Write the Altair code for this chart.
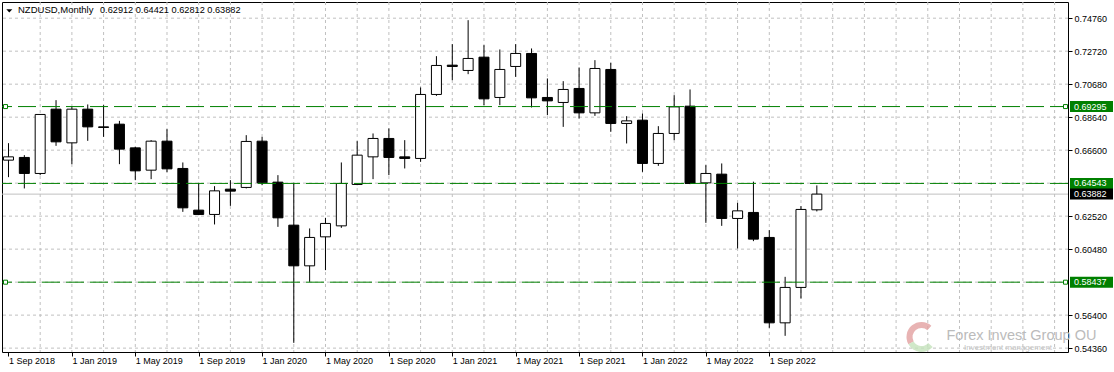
import altair as alt
import pandas as pd

# ---- data (NZDUSD, monthly candles) ----
months = ["2018-09", "2018-10", "2018-11", "2018-12", "2019-01", "2019-02", "2019-03", "2019-04",
          "2019-05", "2019-06", "2019-07", "2019-08", "2019-09", "2019-10", "2019-11", "2019-12",
          "2020-01", "2020-02", "2020-03", "2020-04", "2020-05", "2020-06", "2020-07", "2020-08",
          "2020-09", "2020-10", "2020-11", "2020-12", "2021-01", "2021-02", "2021-03", "2021-04",
          "2021-05", "2021-06", "2021-07", "2021-08", "2021-09", "2021-10", "2021-11", "2021-12",
          "2022-01", "2022-02", "2022-03", "2022-04", "2022-05", "2022-06", "2022-07", "2022-08",
          "2022-09", "2022-10", "2022-11", "2022-12"]
opens = [0.65982, 0.66149, 0.65159, 0.69134, 0.67051, 0.69134, 0.68040, 0.68207,
         0.66742, 0.65363, 0.67156, 0.65468, 0.62891, 0.62625, 0.64189, 0.64294,
         0.67156, 0.64622, 0.61963, 0.59447, 0.61240, 0.61920, 0.64479, 0.66186,
         0.67323, 0.66186, 0.66087, 0.70043, 0.71855, 0.71527, 0.72349, 0.69858,
         0.71774, 0.72578, 0.69858, 0.69549, 0.70414, 0.68906, 0.71589, 0.68250,
         0.68454, 0.65778, 0.67632, 0.69320, 0.64578, 0.65116, 0.62377, 0.62748,
         0.61203, 0.55923, 0.58112, 0.62912]
highs = [0.67032, 0.66291, 0.68830, 0.69691, 0.69320, 0.69425, 0.69382, 0.68411,
         0.66804, 0.67218, 0.67898, 0.65839, 0.64560, 0.64374, 0.64745, 0.67527,
         0.67422, 0.65054, 0.64578, 0.61759, 0.62415, 0.65839, 0.67156, 0.67632,
         0.67941, 0.67218, 0.70476, 0.72411, 0.73153, 0.74636, 0.73091, 0.72825,
         0.73153, 0.72887, 0.71032, 0.70865, 0.71712, 0.72164, 0.71997, 0.68702,
         0.68869, 0.68083, 0.70000, 0.70352, 0.65672, 0.65778, 0.63342, 0.64652,
         0.61654, 0.58767, 0.63138, 0.64421]
lows = [0.64931, 0.64232, 0.65054, 0.66866, 0.65734, 0.67175, 0.67422, 0.65734,
        0.64745, 0.64807, 0.65240, 0.62785, 0.62582, 0.62006, 0.63156, 0.64232,
        0.64436, 0.61858, 0.54687, 0.58458, 0.59181, 0.61796, 0.64436, 0.64807,
        0.65054, 0.65468, 0.65876, 0.69957, 0.70927, 0.71298, 0.69382, 0.69382,
        0.71131, 0.69239, 0.68763, 0.68040, 0.68559, 0.68720, 0.67731, 0.67014,
        0.65258, 0.65629, 0.67218, 0.64498, 0.62105, 0.61920, 0.60523, 0.60974,
        0.55614, 0.55120, 0.57432, 0.62812]
closes = [0.66186, 0.65159, 0.68807, 0.67113, 0.69134, 0.68040, 0.68003, 0.66662,
          0.65320, 0.67156, 0.65444, 0.63033, 0.62625, 0.64084, 0.64065, 0.67138,
          0.64578, 0.62415, 0.59447, 0.61203, 0.62068, 0.64541, 0.66291, 0.67323,
          0.66149, 0.66087, 0.70043, 0.71836, 0.71774, 0.72269, 0.69771, 0.71589,
          0.72578, 0.69833, 0.69647, 0.70352, 0.68906, 0.71650, 0.68250, 0.68411,
          0.65778, 0.67632, 0.69277, 0.64541, 0.65159, 0.62377, 0.62847, 0.61098,
          0.55923, 0.58112, 0.62934, 0.63882]

x_tick_pos = [0, 4, 8, 12, 16, 20, 24, 28, 32, 36, 40, 44, 48]
x_tick_labels = ["1 Sep 2018", "1 Jan 2019", "1 May 2019", "1 Sep 2019", "1 Jan 2020",
                 "1 May 2020", "1 Sep 2020", "1 Jan 2021", "1 May 2021", "1 Sep 2021",
                 "1 Jan 2022", "1 May 2022", "1 Sep 2022"]
grid_y_values = [0.54360, 0.56400, 0.58440, 0.60480, 0.62520, 0.64560,
                 0.66600, 0.68640, 0.70680, 0.72720, 0.74760]
y_label_values = [0.54360, 0.56400, 0.60480, 0.62520, 0.66600,
                  0.68640, 0.70680, 0.72720, 0.74760]
level_values = [0.69295, 0.64543, 0.58437]
level_marker_values = [0.69295, 0.58437]
bid_value = 0.63882
header_symbol = "NZDUSD,Monthly"
header_ohlc = "0.62912 0.64421 0.62812 0.63882"
wm_title = "Forex Invest Group OU"
wm_sub = "Investment management"

# ---- tables ----
df = pd.DataFrame({"m": months, "o": opens, "h": highs, "l": lows, "c": closes})
df["idx"] = range(len(df))
df["top"] = df[["o", "c"]].max(axis=1)
df["bot"] = df[["o", "c"]].min(axis=1)

grid_x = list(range(2, 67, 2))
df_gx = pd.DataFrame({"g": grid_x})
df_gy = pd.DataFrame({"v": grid_y_values})
df_lv = pd.DataFrame({"v": level_values})
df_mk = pd.DataFrame({"v": level_marker_values})
df_bid = pd.DataFrame({"v": [bid_value]})
df_lab = pd.DataFrame({"v": level_values + [bid_value],
                       "kind": ["level"] * len(level_values) + ["bid"]})
one = pd.DataFrame({"a": [0]})

FONT = "Liberation Sans"
W, H = 1066, 350

xs = alt.Scale(domain=[-0.09375, 66.53125], nice=False, zero=False)
ys = alt.Scale(domain=[0.5412, 0.7576], nice=False, zero=False)

label_expr = "[" + ",".join("'" + s + "'" for s in x_tick_labels) + "][round(datum.value / 4)]"
x_axis = alt.Axis(values=x_tick_pos, labelExpr=label_expr, title=None, orient="bottom",
                  labelAlign="left", labelBaseline="top", labelPadding=0, tickSize=4,
                  labelFlush=False, labelOverlap=False, labelBound=False, grid=False, domain=False)
y_axis = alt.Axis(values=y_label_values, format=".5f", title=None, orient="right",
                  labelAlign="left", labelBaseline="middle", labelPadding=2, tickSize=4,
                  labelFlush=False, labelOverlap=False, grid=False, domain=False)


def X(field):
    return alt.X(field, type="quantitative", scale=xs, axis=x_axis)


def Y(field):
    return alt.Y(field, type="quantitative", scale=ys, axis=y_axis)


grid_v = alt.Chart(df_gx).mark_rule(color="#c0c0c0", strokeDash=[3, 3], strokeWidth=1).encode(
    x=X("g"))
grid_h = alt.Chart(df_gy).mark_rule(color="#c0c0c0", strokeDash=[3, 3], strokeWidth=1).encode(
    y=Y("v"))

# watermark
logo_red = alt.Chart(one).mark_arc(radius=15, radius2=9, theta=4.2, theta2=7.0,
                                   color="#e2a0a0", opacity=0.8).encode(
    x=alt.value(919.5), y=alt.value(335))
logo_green = alt.Chart(one).mark_arc(radius=15, radius2=9, theta=2.3, theta2=4.2,
                                     color="#c4e2bb", opacity=0.8).encode(
    x=alt.value(919.5), y=alt.value(335))
wm1 = alt.Chart(one).mark_text(align="left", baseline="alphabetic", font=FONT,
                               fontSize=14.5, color="#bbbbbb").encode(
    x=alt.value(944.5), y=alt.value(338), text=alt.value(wm_title))
wm2 = alt.Chart(one).mark_text(align="left", baseline="alphabetic", font=FONT,
                               fontSize=8, color="#c4c4c4").encode(
    x=alt.value(962), y=alt.value(347.5), text=alt.value(wm_sub))

bid = alt.Chart(df_bid).mark_rule(color="#c0c0c0", strokeWidth=1).encode(y=Y("v"))

wicks = alt.Chart(df).mark_rule(color="black", strokeWidth=1).encode(
    x=X("idx"), y=Y("h"), y2="l:Q")
bodies = alt.Chart(df).mark_bar(size=10, stroke="black", strokeWidth=1).encode(
    x=X("idx"), y=Y("top"), y2="bot:Q",
    fill=alt.condition("datum.c >= datum.o", alt.value("white"), alt.value("black")))

levels = alt.Chart(df_lv).mark_rule(color="#008000", strokeDash=[18, 6], strokeWidth=1).encode(
    y=Y("v"))
mk_left = alt.Chart(df_mk).mark_square(size=16, fill="white", stroke="#008000", strokeWidth=1,
                                       opacity=1).encode(x=alt.value(3.5), y=Y("v"))
mk_right = alt.Chart(df_mk).mark_square(size=16, fill="white", stroke="#008000", strokeWidth=1,
                                        opacity=1).encode(x=alt.value(1063.5), y=Y("v"))

lab_box = alt.Chart(df_lab).mark_rect(yOffset=-5.5, y2Offset=5.5).encode(
    x=alt.value(1068), x2=alt.value(1111),
    y=Y("v"), y2="v:Q",
    color=alt.condition("datum.kind == 'bid'", alt.value("black"), alt.value("#008000")))
lab_txt = alt.Chart(df_lab).mark_text(align="left", baseline="middle", font=FONT, fontSize=9,
                                      color="white").encode(
    x=alt.value(1072), y=Y("v"), text=alt.Text("v:Q", format=".5f"))

tri = alt.Chart(one).mark_point(shape="M-1,-0.55L1,-0.55L0,0.55Z", filled=True, color="black",
                                size=36, opacity=1).encode(x=alt.value(7.3), y=alt.value(8.8))
hdr1 = alt.Chart(one).mark_text(align="left", baseline="alphabetic", font=FONT, fontSize=9.5,
                                color="black").encode(
    x=alt.value(16), y=alt.value(11), text=alt.value(header_symbol))
hdr2 = alt.Chart(one).mark_text(align="left", baseline="alphabetic", font=FONT, fontSize=9.2,
                                color="black").encode(
    x=alt.value(98), y=alt.value(11), text=alt.value(header_ohlc))

chart = alt.layer(
    grid_v, grid_h, logo_red, logo_green, wm1, wm2, bid, wicks, bodies, levels,
    mk_left, mk_right, lab_box, lab_txt, tri, hdr1, hdr2
).properties(
    width=W, height=H,
    padding={"left": 2, "top": 2, "right": 46, "bottom": 20},
    autosize=alt.AutoSizeParams(type="none"),
    background="white",
).configure_view(
    stroke="black", strokeWidth=1
).configure_axis(
    labelFont=FONT, labelFontSize=9, labelColor="black", tickColor="black", tickWidth=1
)

chart.save("out.html", embed_options={"renderer": "svg", "actions": False})
